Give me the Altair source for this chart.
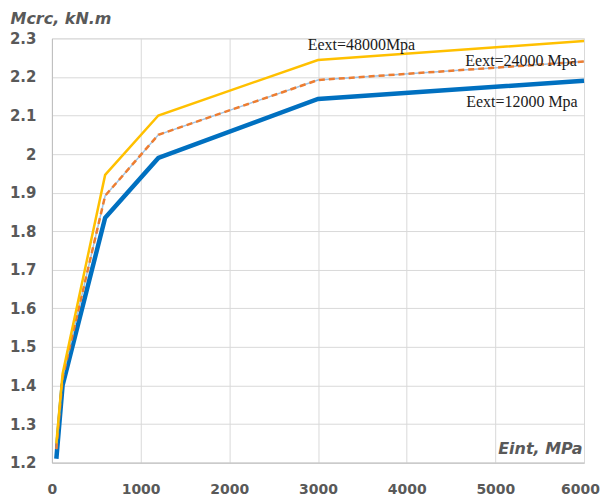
import altair as alt
import pandas as pd

x_vals = [50, 120, 600, 1200, 3000, 6000]
m_12000 = [1.21, 1.40, 1.835, 1.99, 2.143, 2.19]
m_24000 = [1.235, 1.42, 1.892, 2.05, 2.192, 2.24]
m_48000 = [1.25, 1.43, 1.946, 2.10, 2.244, 2.293]

label_text = ["Eext=48000Mpa", "Eext=24000  Mpa", "Eext=12000  Mpa"]
label_x = [3490, 5290, 5300]
label_y = [2.283, 2.241, 2.135]

rows = []
for s, ys in [("12000", m_12000), ("24000", m_24000), ("48000", m_48000)]:
    for xv, yv in zip(x_vals, ys):
        rows.append({"series": s, "E": xv, "M": yv})
df = pd.DataFrame(rows)
lab = pd.DataFrame({"t": label_text, "E": label_x, "M": label_y})

xs = alt.Scale(domain=[0, 6000], nice=False)
ys = alt.Scale(domain=[1.2, 2.3], nice=False)

tick_col = "#595959"
font = "DejaVu Sans"
xaxis = alt.Axis(values=[0, 1000, 2000, 3000, 4000, 5000, 6000], format="d",
                 labelFont=font, labelFontWeight="bold", labelFontSize=14,
                 labelOffset=alt.condition("datum.value == 6000", alt.value(-4), alt.value(0)),
                 labelColor=tick_col, labelPadding=20, labelOverlap=False, ticks=False,
                 domainColor="#bfbfbf", labelFlush=False,
                 gridColor="#d9d9d9", title="Eint, MPa", titleAngle=0, titleX=531, titleY=-6,
                 titleAlign="right", titleBaseline="bottom", titleFont=font,
                 titleFontStyle="italic", titleFontWeight="bold", titleFontSize=16, titleColor=tick_col)
yaxis = alt.Axis(values=[1.2, 1.3, 1.4, 1.5, 1.6, 1.7, 1.8, 1.9, 2.0, 2.1, 2.2, 2.3],
                 labelExpr="datum.value == 2 ? '2' : format(datum.value, '.1f')",
                 labelFont=font, labelFontWeight="bold", labelFontSize=15,
                 labelColor=tick_col, labelPadding=16, labelOverlap=False, labelFlush=False,
                 ticks=False, domainColor="#bfbfbf",
                 gridColor="#d9d9d9", title="Mcrc, kN.m", titleAngle=0, titleX=-42, titleY=-15,
                 titleAlign="left", titleBaseline="alphabetic", titleFont=font,
                 titleFontStyle="italic", titleFontWeight="bold", titleFontSize=16, titleColor=tick_col)

base = alt.Chart(df)
enc_x = alt.X("E:Q", scale=xs, axis=xaxis)
enc_y = alt.Y("M:Q", scale=ys, axis=yaxis)

blue = base.transform_filter("datum.series == '12000'").mark_line(
    color="#0070C0", strokeWidth=4.5).encode(x=enc_x, y=enc_y)
under = base.transform_filter("datum.series == '24000'").mark_line(
    color="#9DC3E6", strokeWidth=1.5).encode(x=enc_x, y=enc_y)
orange = base.transform_filter("datum.series == '24000'").mark_line(
    color="#ED7D31", strokeWidth=2.5, strokeDash=[6, 4]).encode(x=enc_x, y=enc_y)
yellow = base.transform_filter("datum.series == '48000'").mark_line(
    color="#FFC000", strokeWidth=2.5).encode(x=enc_x, y=enc_y)
texts = alt.Chart(lab).mark_text(font="Liberation Serif", fontSize=16, color="#1a1a1a").encode(
    x=enc_x, y=enc_y, text="t:N")

chart = alt.layer(blue, under, orange, yellow, texts).properties(
    width=533, height=425,
    autosize=alt.AutoSizeParams(type="none"),
    padding={"left": 44, "top": 30, "right": 16, "bottom": 40},
).configure_view(stroke=None).configure(background="white")

chart.save("out.html", embed_options={"renderer": "svg", "actions": False})
